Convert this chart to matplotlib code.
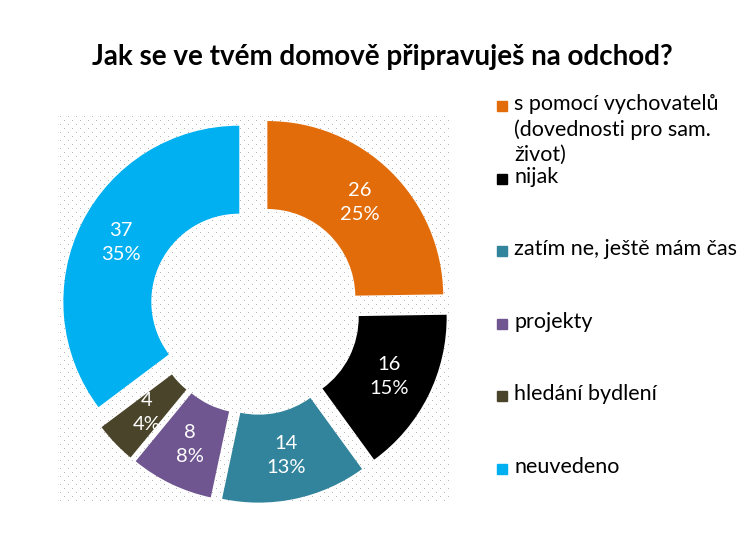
import numpy as np
import matplotlib
matplotlib.use("Agg")
import matplotlib.pyplot as plt
from matplotlib.patches import Rectangle

plt.rcParams['font.family'] = ['Lato', 'DejaVu Sans']

title = "Jak se ve tvém domově připravuješ na odchod?"
categories = ["s pomocí vychovatelů\n(dovednosti pro sam.\nživot)", "nijak",
              "zatím ne, ještě mám čas", "projekty", "hledání bydlení", "neuvedeno"]
values = [26, 16, 14, 8, 4, 37]
colors = ["#E36C0A", "#000000", "#31849B", "#6F5690", "#4A452A", "#00B0F0"]

W, H = 750, 546
fig = plt.figure(figsize=(W / 100, H / 100), dpi=100)

# plot area in pixels (left, top, right, bottom)
pl, pt, pr, pb = 60, 116, 450, 503
rect = [pl / W, 1 - pb / H, (pr - pl) / W, (pb - pt) / H]

# dotted background of the plot area
bg = fig.add_axes(rect, zorder=0)
pw, ph = pr - pl, pb - pt
img = np.ones((ph, pw, 3))
for y in range(0, ph, 4):
    off = 0 if (y // 4) % 2 == 0 else 4
    img[y, off::8] = 0.72
bg.imshow(img, interpolation='nearest', aspect='auto')
bg.axis('off')

ax = fig.add_axes(rect, zorder=1)
ax.set_facecolor('none')
explode = 0.1
wedges, _ = ax.pie(values, colors=colors, startangle=90, counterclock=False,
                   radius=1, explode=[explode] * len(values),
                   wedgeprops=dict(width=0.5, linewidth=0))
total = sum(values)
for w, v in zip(wedges, values):
    ang = np.deg2rad((w.theta1 + w.theta2) / 2)
    r = 0.75 + explode
    ax.text(r * np.cos(ang), r * np.sin(ang), "%d\n%d%%" % (v, round(v / total * 100)),
            ha='center', va='center', color='white', fontsize=14.5, linespacing=1.5)
ax.set_xlim(-1.1, 1.1)
ax.set_ylim(-1.1, 1.1)
ax.set_aspect('equal', adjustable='datalim')
ax.axis('off')

fig.text(0.51, 1 - 57 / H, title, ha='center', va='center', fontsize=20, fontweight='bold')

# legend
top, step = 106, 72.6
for i, (lab, c) in enumerate(zip(categories, colors)):
    yc = top + i * step
    fig.patches.append(Rectangle((497 / W, 1 - (yc + 5) / H), 10 / W, 10 / H,
                                 transform=fig.transFigure, color=c, figure=fig))
    fig.text(514 / W, 1 - (yc - 12) / H, lab, ha='left', va='top', fontsize=15.5,
             linespacing=1.32)

fig.savefig("out.png", dpi=100)
